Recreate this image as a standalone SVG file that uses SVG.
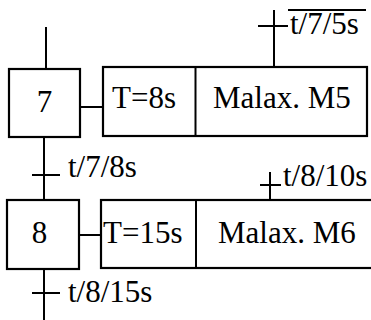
<svg xmlns="http://www.w3.org/2000/svg" width="371" height="320" viewBox="0 0 371 320">
  <style>
    .ln { stroke: #000; stroke-width: 2; fill: none; }
    .box { stroke: #000; stroke-width: 2.2; fill: #fff; }
  </style>

  <!-- links between steps, actions and transitions -->
  <g id="connectors">
    <line class="ln" x1="46" y1="27" x2="46" y2="69"/>
    <line class="ln" x1="44" y1="137" x2="44" y2="200"/>
    <line class="ln" x1="32" y1="175" x2="60" y2="175"/>
    <line class="ln" x1="44" y1="269" x2="44" y2="320"/>
    <line class="ln" x1="32" y1="293" x2="60" y2="293"/>
    <line class="ln" x1="80" y1="107" x2="103" y2="107"/>
    <line class="ln" x1="79" y1="235" x2="101" y2="235"/>
    <line class="ln" x1="274" y1="10" x2="274" y2="67"/>
    <line class="ln" x1="258" y1="26" x2="288" y2="26"/>
    <line class="ln" x1="270" y1="172" x2="270" y2="200"/>
    <line class="ln" x1="260" y1="185" x2="281" y2="185"/>
  </g>

  <g font-family="Liberation Serif" font-size="31" fill="#000">
    <g id="step7">
      <rect class="box" x="9" y="69" width="71" height="68"/>
      <text x="44.5" y="112" text-anchor="middle">7</text>
    </g>

    <g id="action7">
      <rect class="box" x="103" y="67" width="264" height="69"/>
      <line class="ln" x1="195.5" y1="67" x2="195.5" y2="136"/>
      <text x="112" y="108">T=8s</text>
      <text x="213" y="108">Malax. M5</text>
    </g>

    <g id="step8">
      <rect class="box" x="7" y="200" width="72" height="69"/>
      <text x="39.5" y="243" text-anchor="middle">8</text>
    </g>

    <g id="action8">
      <rect class="box" x="101" y="200" width="280" height="68"/>
      <line class="ln" x1="196" y1="200" x2="196" y2="268"/>
      <text x="103" y="243">T=15s</text>
      <text x="218" y="243">Malax. M6</text>
    </g>

    <g id="labels">
      <text x="290" y="34">t/7/5s</text>
      <line class="ln" x1="288" y1="10" x2="366" y2="10"/>
      <text x="68" y="177">t/7/8s</text>
      <text x="283" y="186">t/8/10s</text>
      <text x="68" y="302">t/8/15s</text>
    </g>
  </g>
</svg>
